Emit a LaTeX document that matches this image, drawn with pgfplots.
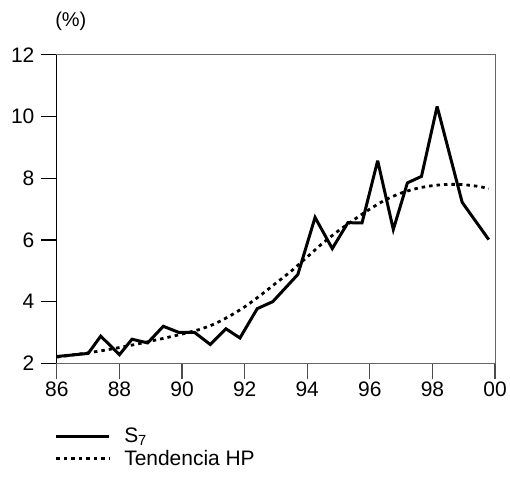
\documentclass[border=0pt]{standalone}
\usepackage{fontspec}
\setmainfont{Liberation Sans}
\usepackage{pgfplots}
\pgfplotsset{compat=1.18}
\begin{document}
\begin{tikzpicture}
\begin{axis}[
  at={(0,0)}, anchor=south west,
  scale only axis, width=439pt, height=309pt,
  xmin=86, xmax=100, ymin=2, ymax=12,
  xtick={86,88,...,100},
  xticklabels={86,88,90,92,94,96,98,00},
  ytick={2,4,...,12},
  xtick pos=bottom, ytick pos=left,
  xtick align=outside, ytick align=outside,
  major tick length=16pt,
  axis line style={draw=black!60, line width=1pt},
  xtick style={draw=black!70, line width=1.2pt},
  ytick style={draw=black, line width=1.2pt},
  /pgf/number format/assume math mode=true,
  tick label style={font=\fontsize{21}{24}\selectfont},
  x tick label style={yshift=1pt},
  y tick label style={xshift=-3pt},
  legend style={at={(axis description cs:-0.005,-0.205)}, anchor=north west,
    draw=none, fill=none, inner sep=0pt, row sep=3pt, column sep=12pt,
    font=\fontsize{21}{24}\selectfont,
    nodes={inner sep=1.5pt}},
  legend cell align=left,
  legend image code/.code={\draw[#1] (0pt,0pt) -- (53pt,0pt);},
  clip=false,
]
\addplot[black, line width=3pt, line join=miter, miter limit=4] coordinates {
 (86.0,2.22) (87.0,2.32) (87.4,2.88) (88.0,2.28) (88.4,2.78) (88.9,2.66)
 (89.4,3.20) (89.9,3.00) (90.4,3.00) (90.9,2.61) (91.4,3.12) (91.85,2.82)
 (92.4,3.77) (92.9,4.00) (93.7,4.88) (94.25,6.73) (94.8,5.72) (95.3,6.56)
 (95.75,6.55) (96.25,8.57) (96.75,6.34) (97.2,7.85) (97.65,8.06) (98.15,10.33)
 (98.95,7.22) (99.8,6.01)
};
\addlegendentry{S\textsubscript{7}}
\addplot[black, line width=2.8pt, dash pattern=on 3.5pt off 4pt, smooth] coordinates {
 (86.0,2.20) (86.5,2.27) (87.0,2.34) (87.5,2.42) (88.0,2.51) (88.5,2.61)
 (89.0,2.72) (89.5,2.83) (90.0,2.95) (90.5,3.08) (91.0,3.26) (91.5,3.52)
 (92.0,3.83) (92.5,4.20) (93.0,4.60) (93.5,5.00) (94.0,5.45) (94.5,5.90)
 (95.0,6.30) (95.5,6.66) (96.0,7.00) (96.5,7.30) (97.0,7.52) (97.5,7.67)
 (98.0,7.76) (98.5,7.80) (99.0,7.79) (99.5,7.73) (99.8,7.66)
};
\addlegendentry{Tendencia HP}
\draw[black, line width=1.2pt] (rel axis cs:0,0) -- (rel axis cs:0,1);
\node[font=\fontsize{20}{22}\selectfont, anchor=center] at ([xshift=14pt,yshift=34pt]rel axis cs:0,1) {(\%)};
\end{axis}
\path (-57pt,-115pt) rectangle (453pt,364pt);
\end{tikzpicture}
\end{document}
